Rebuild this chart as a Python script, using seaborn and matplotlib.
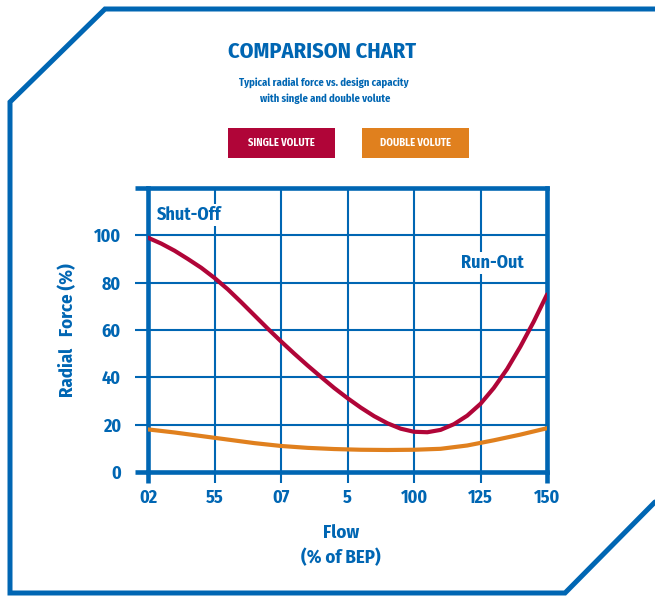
import pandas as pd
import matplotlib.pyplot as plt
import seaborn as sns
from matplotlib.lines import Line2D
from matplotlib.patches import Rectangle

# --- DATA ---
single_flow = [0, 5, 10, 15, 20, 25, 30, 35, 40, 45, 50, 55, 60, 65, 70, 75,
               80, 85, 90, 95, 100, 105, 110, 115, 120, 125, 130, 135, 140, 145, 150]
single_force = [99, 96.5, 93.5, 90, 86.3, 82, 77.2, 71.8, 66.2, 60.6, 55.2, 50, 45, 40.2, 35.5, 31.2,
                27.2, 23.6, 20.6, 18.3, 17, 16.8, 17.8, 20.2, 23.8, 28.8, 35.5, 43.5, 53, 63.5, 75]

double_flow = [0, 10, 20, 30, 40, 50, 60, 70, 80, 90, 100, 110, 120, 130, 140, 150]
double_force = [18, 16.7, 15.2, 13.7, 12.2, 11, 10.2, 9.7, 9.4, 9.3, 9.4, 9.8, 11.2, 13.4, 15.8, 18.5]

x_ticks = [0, 25, 50, 75, 100, 125, 150]
x_tick_labels = ['02', '55', '07', '5', '100', '125', '150']
y_ticks = [0, 20, 40, 60, 80, 100, 120]
y_tick_labels = ['0', '20', '40', '60', '80', '100', '']

series_names = ['SINGLE VOLUTE', 'DOUBLE VOLUTE']

BLUE = '#0066b3'
RED = '#b00538'
ORANGE = '#e0801e'

df = pd.concat([
    pd.DataFrame({'Flow': single_flow, 'Force': single_force, 'Volute': series_names[0]}),
    pd.DataFrame({'Flow': double_flow, 'Force': double_force, 'Volute': series_names[1]}),
])

sns.set_theme(style="white")
plt.rcParams['font.family'] = ['Fira Sans Condensed', 'DejaVu Sans']
plt.rcParams['font.weight'] = 'bold'

W, H = 655, 596
fig = plt.figure(figsize=(W / 100, H / 100), dpi=100)
ax = fig.add_axes([148 / W, 1 - 472 / H, 399 / W, 284 / H])

sns.lineplot(data=df, x='Flow', y='Force', hue='Volute',
             palette={series_names[0]: RED, series_names[1]: ORANGE},
             linewidth=3, legend=False, ax=ax, zorder=3)

ax.set_xlim(0, 150)
ax.set_ylim(0, 120)
ax.set_xticks(x_ticks)
ax.set_xticklabels(x_tick_labels)
ax.set_yticks(y_ticks)
ax.set_yticklabels(y_tick_labels)

ax.grid(True, color=BLUE, linewidth=1.5)
ax.set_axisbelow(True)
for sp in ax.spines.values():
    sp.set_color(BLUE)
    sp.set_linewidth(3.3)
    sp.set_visible(True)

ax.tick_params(axis='x', direction='out', length=8, width=1.5, color=BLUE,
               labelcolor=BLUE, labelsize=13, pad=4, bottom=True)
ax.tick_params(axis='y', direction='out', length=9.5, width=1.5, color=BLUE,
               labelcolor=BLUE, labelsize=13, pad=10, left=True)
for t in (ax.xaxis.get_major_ticks()[0], ax.xaxis.get_major_ticks()[-1],
          ax.yaxis.get_major_ticks()[0], ax.yaxis.get_major_ticks()[-1]):
    t.tick1line.set_markeredgewidth(3.3)
for lbl in ax.get_xticklabels() + ax.get_yticklabels():
    lbl.set_fontweight('bold')

ax.set_xlabel('Flow\n(% of BEP)', color=BLUE, fontsize=13.5, fontweight='bold', linespacing=1.45)
ax.set_ylabel('Radial   Force (%)', color=BLUE, fontsize=13.5, fontweight='bold')
ax.xaxis.set_label_coords(0.484, -0.183)
ax.yaxis.set_label_coords(-0.178, 0.5)

box = dict(facecolor='white', edgecolor='none', pad=1.5)
ax.text(3.4, 108.5, 'Shut-Off', color=BLUE, fontsize=13, fontweight='bold',
        ha='left', va='center', bbox=box, zorder=4)
ax.text(129.5, 88.5, 'Run-Out', color=BLUE, fontsize=13, fontweight='bold',
        ha='center', va='center', bbox=box, zorder=4)

# titles
fig.text(322 / W, 1 - 51.5 / H, 'COMPARISON CHART', color=BLUE, fontsize=16,
         fontweight='bold', ha='center', va='center')
fig.text(324 / W, 1 - 83 / H, 'Typical radial force vs. design capacity', color=BLUE,
         fontsize=7.6, fontweight='bold', ha='center', va='center')
fig.text(325 / W, 1 - 99 / H, 'with single and double volute', color=BLUE,
         fontsize=7.6, fontweight='bold', ha='center', va='center')

# legend boxes
for x0, name, col in [(228, series_names[0], RED), (362, series_names[1], ORANGE)]:
    fig.patches.append(Rectangle((x0 / W, 1 - 158 / H), 107 / W, 30 / H,
                                 transform=fig.transFigure, facecolor=col, edgecolor='none'))
    fig.text((x0 + 53.5) / W, 1 - 143 / H, name, color='white', fontsize=7.6,
             fontweight='bold', ha='center', va='center')

# outer frame
fx = [655, 105, 10, 10, 565, 655]
fy = [9, 9, 102, 593, 593, 502]
fig.add_artist(Line2D([v / W for v in fx], [1 - v / H for v in fy], transform=fig.transFigure,
                      color=BLUE, linewidth=3.6, solid_joinstyle='miter'))

plt.savefig('out.png', dpi=100)
plt.close()
